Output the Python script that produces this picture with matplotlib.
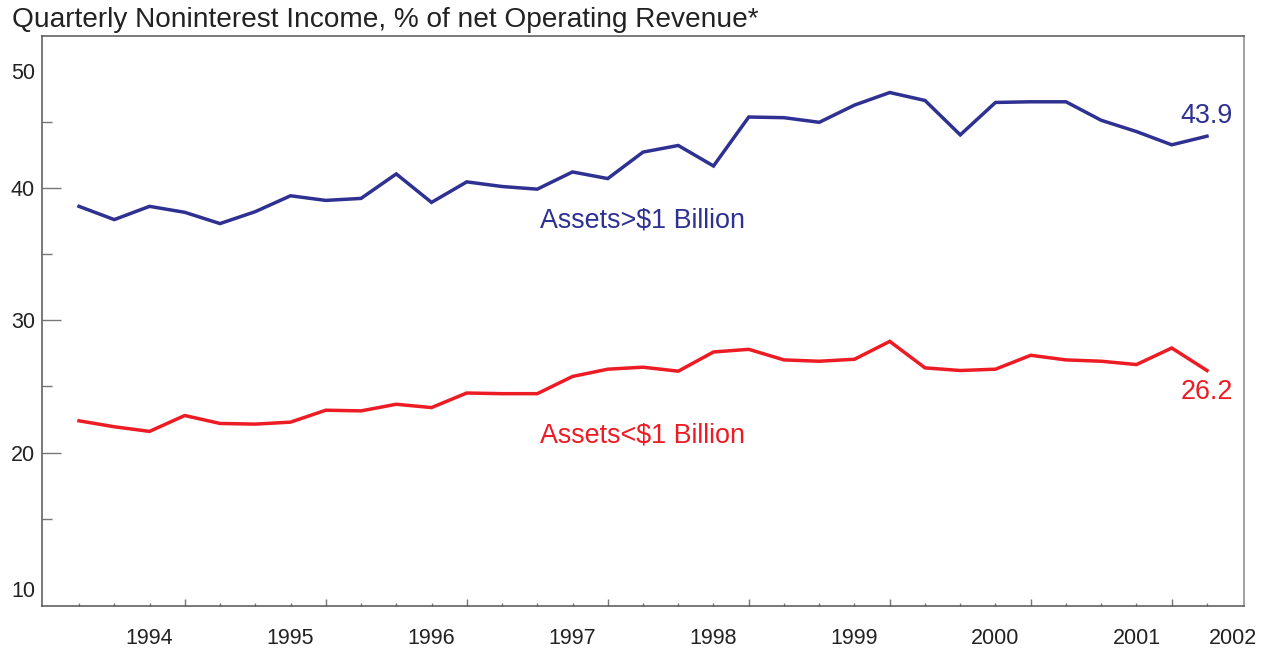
import numpy as np
import matplotlib
matplotlib.use("Agg")
import matplotlib.pyplot as plt
from matplotlib.transforms import blended_transform_factory

plt.rcParams['font.family'] = ['Liberation Sans', 'DejaVu Sans']

# quarterly observations (index 1..33)
quarter_idx = list(range(1, 34))
large_banks = [38.6, 37.6, 38.6, 38.15, 37.3, 38.2, 39.4, 39.05, 39.2, 41.05,
               38.9, 40.45, 40.1, 39.9, 41.2, 40.7, 42.7, 43.2, 41.65, 45.35,
               45.3, 44.95, 46.25, 47.2, 46.6, 44.0, 46.45, 46.5, 46.5, 45.1,
               44.25, 43.25, 43.9]
small_banks = [22.4, 21.95, 21.6, 22.8, 22.2, 22.15, 22.3, 23.2, 23.15, 23.65,
               23.4, 24.5, 24.45, 24.45, 25.75, 26.3, 26.45, 26.15, 27.6, 27.8,
               27.0, 26.9, 27.05, 28.4, 26.4, 26.2, 26.3, 27.35, 27.0, 26.9,
               26.65, 27.9, 26.2]
year_labels = ['1994', '1995', '1996', '1997', '1998', '1999', '2000', '2001', '2002']
year_label_pos = [3, 7, 11, 15, 19, 23, 27, 31, 33.73]
ytick_vals = [20, 30, 40]
ytick_labels = ['20', '30', '40']
yedge_labels = ['10', '50']
yedge_pos = [9.66, 48.8]

BLUE = '#2E3192'
RED = '#ED1C24'
SPINE = '#555555'
TXT = '#222222'

fig = plt.figure(figsize=(12.72, 6.48), dpi=100)
ax = fig.add_axes([42/1272, 1-606/648, (1244-42)/1272, (606-36)/648])

ax.plot(quarter_idx, large_banks, color=BLUE, lw=2.5, solid_joinstyle='miter')
ax.plot(quarter_idx, small_banks, color=RED, lw=2.5, solid_joinstyle='miter')

ax.set_xlim(-0.05, 34.05)
ax.set_ylim(8.41, 51.47)

for s in ax.spines.values():
    s.set_color(SPINE)
    s.set_linewidth(1.1)
ax.spines['right'].set_color('#888888')

# x ticks
major_x = [4, 8, 12, 16, 20, 24, 28, 32]
minor_x = [i for i in range(1, 34) if i not in major_x]
ax.set_xticks(major_x)
ax.set_xticks(minor_x, minor=True)
ax.set_xticklabels([])
ax.tick_params(axis='x', which='major', direction='in', length=5.4, width=1.0, color='#777777')
ax.tick_params(axis='x', which='minor', direction='in', length=2.5, width=1.0, color='#777777')
tx = blended_transform_factory(ax.transData, ax.transAxes)
for lab, pos in zip(year_labels, year_label_pos):
    ax.text(pos, -0.066, lab, transform=tx, ha='center', va='baseline',
            fontsize=15.5, color=TXT)

# y ticks
ax.set_yticks(ytick_vals)
ax.set_yticklabels(ytick_labels)
ax.set_yticks([15, 25, 35, 45], minor=True)
ax.tick_params(axis='y', which='major', direction='in', length=13.7, width=1.0,
               color='#777777', labelsize=15.5, labelcolor=TXT, pad=5)
ax.tick_params(axis='y', which='minor', direction='in', length=6.9, width=1.0, color='#777777')
ty = blended_transform_factory(ax.transAxes, ax.transData)
for lab, pos in zip(yedge_labels, yedge_pos):
    ax.text(-0.0058, pos, lab, transform=ty, ha='right', va='center_baseline',
            fontsize=15.5, color=TXT)

# annotations
ax.text(14.07, 37.02, 'Assets>$1 Billion', color=BLUE, fontsize=19.4, ha='left', va='baseline')
ax.text(14.07, 20.73, 'Assets<$1 Billion', color=RED, fontsize=19.4, ha='left', va='baseline')
ax.text(33.73, 44.87, '43.9', color=BLUE, fontsize=19.4, ha='right', va='baseline')
ax.text(33.73, 24.03, '26.2', color=RED, fontsize=19.4, ha='right', va='baseline')

fig.text(12/1272, 1-27/648, 'Quarterly Noninterest Income, % of net Operating Revenue*',
         fontsize=20.2, color=TXT, ha='left', va='baseline')

fig.savefig('out.png', dpi=100)
